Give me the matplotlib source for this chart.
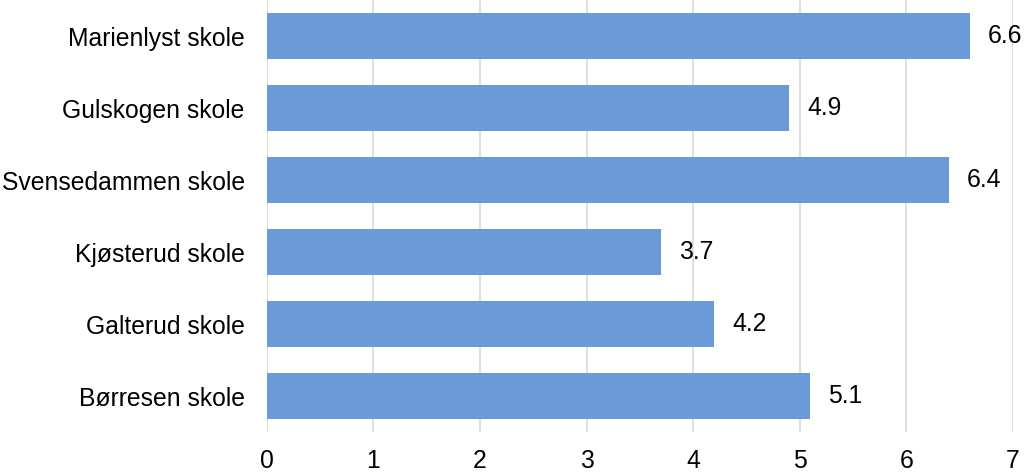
import matplotlib
matplotlib.use("Agg")
import matplotlib.pyplot as plt

categories = ["Marienlyst skole", "Gulskogen skole", "Svensedammen skole",
              "Kjøsterud skole", "Galterud skole", "Børresen skole"]
values = [6.6, 4.9, 6.4, 3.7, 4.2, 5.1]
xticks = [0, 1, 2, 3, 4, 5, 6, 7]

plt.rcParams['font.family'] = ['Liberation Sans', 'DejaVu Sans']
FS = 17.8

fig = plt.figure(figsize=(10.24, 4.72), dpi=100)
ax = fig.add_axes([0.2607, 0.0847, 0.989 - 0.2607, 1 - 0.0847])

ypos = list(range(len(categories)))
ax.barh(ypos, values, height=0.65, color='#6A9BD8', zorder=3)
for y, v in zip(ypos, values):
    ax.text(v + 0.17, y, f"{v:.1f}", va='center', ha='left', fontsize=FS, color='black')

ax.set_yticks(ypos)
ax.set_yticklabels(categories, fontsize=FS)
ax.set_ylim(len(categories) - 0.5, -0.5)
ax.set_xlim(0, 7)
ax.set_xticks(xticks)
ax.set_xticklabels([str(t) for t in xticks], fontsize=FS)
ax.xaxis.grid(True, color='#D9D9D9', linewidth=1.2, zorder=0)
ax.set_axisbelow(True)
for s in ax.spines.values():
    s.set_visible(False)
ax.tick_params(axis='both', length=0)
ax.tick_params(axis='x', pad=12)
ax.tick_params(axis='y', pad=16)

fig.savefig("out.png", dpi=100)
